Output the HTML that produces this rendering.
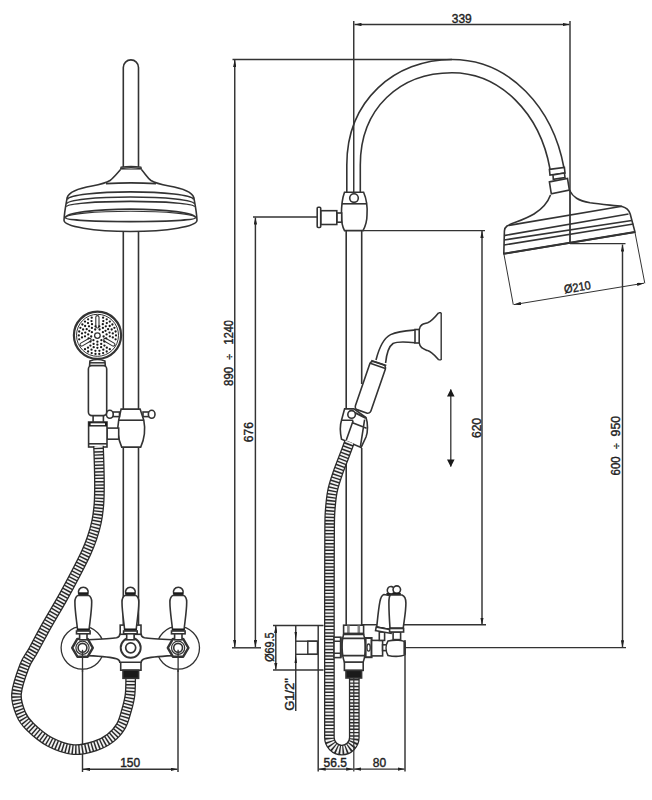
<!DOCTYPE html>
<html><head><meta charset="utf-8">
<style>
html,body{margin:0;padding:0;background:#fff;width:652px;height:800px;overflow:hidden}
svg{display:block}
text{font-family:"Liberation Sans",sans-serif;font-size:12px;fill:#222;stroke:#222;stroke-width:0.4}
</style></head><body>
<svg width="652" height="800" viewBox="0 0 652 800">
<defs>
<marker id="ar" viewBox="0 0 7 3.4" refX="7" refY="1.7" markerWidth="7" markerHeight="3.4" markerUnits="userSpaceOnUse" orient="auto-start-reverse"><path d="M0,0 L7,1.7 L0,3.4z" fill="#222"/></marker>
</defs>
<g id="dims" fill="none" stroke="#333" stroke-width="1.45">
<!-- 339 -->
<line x1="353.75" y1="21" x2="353.75" y2="192"/>
<line x1="570" y1="21" x2="570" y2="243.4"/>
<line x1="354.5" y1="24.5" x2="569.5" y2="24.5" marker-start="url(#ar)" marker-end="url(#ar)"/>
<!-- top line 890 -->
<line x1="232.5" y1="59.5" x2="452" y2="59.5"/>
<line x1="234.75" y1="60" x2="234.75" y2="647" marker-start="url(#ar)" marker-end="url(#ar)"/>
<!-- 676 -->
<line x1="253" y1="217" x2="317" y2="217"/>
<line x1="255.4" y1="217.5" x2="255.4" y2="647" marker-start="url(#ar)" marker-end="url(#ar)"/>
<line x1="232" y1="647.8" x2="261" y2="647.8"/>
<!-- 620 -->
<line x1="363" y1="230.6" x2="485" y2="230.6"/>
<line x1="482" y1="231" x2="482" y2="624.5" marker-start="url(#ar)" marker-end="url(#ar)"/>
<line x1="362" y1="624.7" x2="486" y2="624.7"/>
<!-- 600 950 -->
<line x1="570" y1="243.6" x2="625.5" y2="243.6"/>
<line x1="622.5" y1="244.5" x2="622.5" y2="647.3" marker-start="url(#ar)" marker-end="url(#ar)"/>
<line x1="405" y1="647.6" x2="626" y2="647.6"/>
<!-- double arrow -->
<line x1="450.8" y1="389.5" x2="450.8" y2="466.5" stroke-width="1.3"/>
<path d="M447,396.5 L450.8,389 L454.6,396.5z M447,459.5 L450.8,467 L454.6,459.5z" fill="#1a1a1a" stroke="none"/>
<!-- 69.5 / G1/2 -->
<line x1="273" y1="625.5" x2="323.5" y2="625.5"/>
<line x1="273" y1="670" x2="323.5" y2="670"/>
<line x1="275.8" y1="626" x2="275.8" y2="669.5" marker-start="url(#ar)" marker-end="url(#ar)"/>
<line x1="295.75" y1="625.5" x2="295.75" y2="711"/>
<path d="M294.5,632 L295.75,640 L297,632z M294.5,663 L295.75,655 L297,663z" fill="#1a1a1a" stroke="none"/>
<line x1="295.75" y1="641.2" x2="317.5" y2="641.2"/>
<line x1="295.75" y1="654.3" x2="317.5" y2="654.3"/>
<rect x="307.8" y="641.2" width="9.7" height="13.1"/>
<line x1="318.2" y1="625.5" x2="318.2" y2="771.5"/>
<!-- bottom 56.5 80 -->

<line x1="405" y1="640" x2="405" y2="771.5"/>
<line x1="318.7" y1="769.1" x2="353.2" y2="769.1" marker-start="url(#ar)" marker-end="url(#ar)"/>
<line x1="354.1" y1="769.1" x2="404.5" y2="769.1" marker-start="url(#ar)" marker-end="url(#ar)"/>
<!-- 150 -->
<line x1="82.5" y1="655" x2="82.5" y2="772"/>
<line x1="178" y1="655" x2="178" y2="772"/>
<line x1="83" y1="769.3" x2="177.5" y2="769.3" marker-start="url(#ar)" marker-end="url(#ar)"/>
</g>
<g id="left" fill="none" stroke="#333" stroke-width="1.6">
<path d="M123.3,168 V67.5 A7.6,7.6 0 0 1 138.5,67.5 V168" fill="#fff"/>
<path d="M120.4,169.8 L121,167.2 Q131,165.6 141,167.2 L141.6,169.8 Z" fill="#fff" stroke-width="1.2"/>
<path d="M121,168.4 Q131,167 141,168.4" stroke-width="1.6"/>
<path d="M120.4,169.8 C116.5,174 114,177.5 110,180.5 C106,183 100,184.5 92,186 C78,188.5 69,192 67.2,197.5 C66.2,203 64.3,212 64,220.3 A66.5,11.2 0 0 0 197,220.3 C196.7,212 194.8,203 193.8,197.5 C192,192 183,188.5 169,186 C161,184.5 155,183 151,180.5 C147,177.5 145.5,174 141.6,169.8" fill="#fff"/>
<path d="M106,183.6 Q131,182.2 156,183.6"/>
<path d="M67.3,199.4 A63.3,8 0 0 1 193.7,199.4"/>
<path d="M66.9,203.8 A63.6,6.8 0 0 1 194.1,203.8"/>
<path d="M66.5,206.7 A64,5.3 0 0 1 194.5,206.7"/>
<path d="M65.4,217.8 A65.1,8.7 0 0 1 195.6,217.8" stroke-width="1.8"/>
<path d="M65.4,217.8 A65.1,6.6 0 0 1 195.6,217.8" stroke-width="1.1"/>
<path d="M65.4,217.8 A65.1,3.8 0 0 0 195.6,217.8"/>
<path d="M123.3,232 V409.5 M138.5,232 V409.5 M123.3,447 V626 M138.5,447 V626"/>
<!-- slider -->
<path d="M121.1,409.1 H140.1 L143.8,420.2 C145.3,428 145.3,437 140.7,447.1 H121.7 C117.2,437 117.2,428 118.7,420.2 Z" fill="#fff"/>
<line x1="118.7" y1="420.2" x2="143.8" y2="420.2"/>
<rect x="113" y="412" width="6.5" height="4.6" fill="#fff"/>
<rect x="143" y="412" width="5.7" height="4.6" fill="#fff"/>
<ellipse cx="109.8" cy="414.3" rx="3.4" ry="4" fill="#fff"/>
<ellipse cx="151.7" cy="414.3" rx="3.3" ry="4" fill="#fff"/>
<!-- bracket -->
<rect x="107" y="428.1" width="11.7" height="11.1" fill="#fff"/>
<rect x="88.6" y="422" width="18.4" height="25" fill="#fff"/>
<rect x="88.6" y="422" width="18.4" height="4.5" fill="#1a1a1a" stroke="none"/>
<rect x="90.6" y="423.3" width="14.4" height="1.8" fill="#fff" stroke="none"/>
<line x1="88.6" y1="443.8" x2="107" y2="443.8"/>
<rect x="93.1" y="415.2" width="10.3" height="6.8" fill="#fff"/>
<!-- handle -->
<rect x="88.4" y="365.5" width="18.3" height="50.1" rx="3.5" fill="#fff"/>
<path d="M89.6,365.5 L89.9,361 Q97.4,358 104.9,361 L105.3,365.5 Z" fill="#fff"/>
<line x1="89.8" y1="362.8" x2="105.1" y2="362.8" stroke-width="1.5"/>
<!-- hand shower head -->
<circle cx="97.5" cy="335.3" r="23.6" fill="#fff" stroke-width="2.2"/>
<circle cx="97.5" cy="335.3" r="21" stroke-width="1"/>
<circle cx="97.4" cy="335.6" r="2.8" stroke-width="1.3"/>
<g fill="#fff" stroke-width="1.1">
<rect x="95.8" y="315.6" width="3.2" height="12.4" rx="1.6"/>
<rect x="-1.6" y="-6.2" width="3.2" height="12.4" rx="1.6" transform="translate(85.6,342.2) rotate(60)"/>
<rect x="-1.6" y="-6.2" width="3.2" height="12.4" rx="1.6" transform="translate(109.3,342.2) rotate(-60)"/>
</g>
<g fill="#1a1a1a" stroke="none"><circle cx="99.6" cy="329.5" r="1.15"/><circle cx="102.9" cy="332.2" r="1.15"/><circle cx="103.6" cy="336.5" r="1.15"/><circle cx="101.4" cy="340.2" r="1.15"/><circle cx="97.4" cy="341.7" r="1.15"/><circle cx="93.4" cy="340.2" r="1.15"/><circle cx="91.2" cy="336.5" r="1.15"/><circle cx="91.9" cy="332.2" r="1.15"/><circle cx="95.2" cy="329.5" r="1.15"/><circle cx="99.3" cy="326.3" r="1.15"/><circle cx="102.9" cy="327.9" r="1.15"/><circle cx="105.5" cy="330.8" r="1.15"/><circle cx="106.6" cy="334.4" r="1.15"/><circle cx="106.2" cy="338.3" r="1.15"/><circle cx="104.3" cy="341.6" r="1.15"/><circle cx="101.2" cy="343.9" r="1.15"/><circle cx="97.4" cy="344.7" r="1.15"/><circle cx="93.6" cy="343.9" r="1.15"/><circle cx="90.5" cy="341.6" r="1.15"/><circle cx="88.6" cy="338.3" r="1.15"/><circle cx="88.2" cy="334.4" r="1.15"/><circle cx="89.3" cy="330.8" r="1.15"/><circle cx="91.9" cy="327.9" r="1.15"/><circle cx="95.5" cy="326.3" r="1.15"/><circle cx="102.8" cy="324.2" r="1.15"/><circle cx="105.8" cy="326.3" r="1.15"/><circle cx="108.1" cy="329.2" r="1.15"/><circle cx="109.5" cy="332.6" r="1.15"/><circle cx="109.8" cy="336.3" r="1.15"/><circle cx="104.4" cy="345.6" r="1.15"/><circle cx="101.1" cy="347.2" r="1.15"/><circle cx="97.4" cy="347.8" r="1.15"/><circle cx="93.7" cy="347.2" r="1.15"/><circle cx="90.4" cy="345.6" r="1.15"/><circle cx="85.0" cy="336.3" r="1.15"/><circle cx="85.3" cy="332.6" r="1.15"/><circle cx="86.7" cy="329.2" r="1.15"/><circle cx="89.0" cy="326.3" r="1.15"/><circle cx="92.0" cy="324.2" r="1.15"/><circle cx="103.3" cy="321.1" r="1.15"/><circle cx="106.8" cy="323.1" r="1.15"/><circle cx="109.7" cy="326.0" r="1.15"/><circle cx="111.7" cy="329.5" r="1.15"/><circle cx="112.8" cy="333.4" r="1.15"/><circle cx="112.8" cy="337.4" r="1.15"/><circle cx="106.8" cy="347.7" r="1.15"/><circle cx="103.3" cy="349.7" r="1.15"/><circle cx="99.4" cy="350.8" r="1.15"/><circle cx="95.4" cy="350.8" r="1.15"/><circle cx="91.5" cy="349.7" r="1.15"/><circle cx="88.0" cy="347.7" r="1.15"/><circle cx="82.0" cy="337.4" r="1.15"/><circle cx="82.0" cy="333.4" r="1.15"/><circle cx="83.1" cy="329.5" r="1.15"/><circle cx="85.1" cy="326.0" r="1.15"/><circle cx="88.0" cy="323.1" r="1.15"/><circle cx="91.5" cy="321.1" r="1.15"/><circle cx="103.1" cy="317.7" r="1.15"/><circle cx="106.7" cy="319.3" r="1.15"/><circle cx="109.8" cy="321.6" r="1.15"/><circle cx="112.4" cy="324.5" r="1.15"/><circle cx="114.4" cy="327.8" r="1.15"/><circle cx="115.6" cy="331.5" r="1.15"/><circle cx="116.0" cy="335.4" r="1.15"/><circle cx="115.6" cy="339.3" r="1.15"/><circle cx="109.8" cy="349.2" r="1.15"/><circle cx="106.7" cy="351.5" r="1.15"/><circle cx="103.1" cy="353.1" r="1.15"/><circle cx="99.3" cy="353.9" r="1.15"/><circle cx="95.5" cy="353.9" r="1.15"/><circle cx="91.7" cy="353.1" r="1.15"/><circle cx="88.1" cy="351.5" r="1.15"/><circle cx="85.0" cy="349.2" r="1.15"/><circle cx="79.2" cy="339.3" r="1.15"/><circle cx="78.8" cy="335.4" r="1.15"/><circle cx="79.2" cy="331.5" r="1.15"/><circle cx="80.4" cy="327.8" r="1.15"/><circle cx="82.4" cy="324.5" r="1.15"/><circle cx="85.0" cy="321.6" r="1.15"/><circle cx="88.1" cy="319.3" r="1.15"/><circle cx="91.7" cy="317.7" r="1.15"/></g>
</g>
<g id="hoseL" fill="none">
<path d="M98.5,446.0 C98.7,451.3 99.3,468.5 99.4,478.0 C99.5,487.5 99.5,495.7 99.0,503.0 C98.5,510.3 97.7,516.2 96.5,522.0 C95.3,527.8 93.7,533.0 92.0,538.0 C90.3,543.0 89.3,545.8 86.5,552.0 C83.7,558.2 79.2,567.0 75.0,575.0 C70.8,583.0 66.2,591.7 61.5,600.0 C56.8,608.3 51.7,616.7 47.0,625.0 C42.3,633.3 37.2,643.2 33.5,650.0 C29.8,656.8 27.3,658.7 24.5,666.0 C21.7,673.3 17.1,686.0 16.5,694.0 C15.9,702.0 18.8,708.6 21.0,714.0 C23.2,719.4 25.2,721.9 30.0,726.6 C34.8,731.3 42.7,738.2 50.0,742.0 C57.3,745.8 66.1,748.9 73.6,749.6 C81.1,750.3 88.9,747.9 95.0,746.0 C101.1,744.1 106.1,741.3 110.4,738.0 C114.7,734.7 118.3,730.6 121.0,726.0 C123.7,721.4 125.0,715.7 126.5,710.5 C128.0,705.3 129.3,700.6 130.0,695.0 C130.7,689.4 130.6,680.0 130.7,677.0" stroke="#2a2a2a" stroke-width="10.8"/>
<path d="M98.5,446.0 C98.7,451.3 99.3,468.5 99.4,478.0 C99.5,487.5 99.5,495.7 99.0,503.0 C98.5,510.3 97.7,516.2 96.5,522.0 C95.3,527.8 93.7,533.0 92.0,538.0 C90.3,543.0 89.3,545.8 86.5,552.0 C83.7,558.2 79.2,567.0 75.0,575.0 C70.8,583.0 66.2,591.7 61.5,600.0 C56.8,608.3 51.7,616.7 47.0,625.0 C42.3,633.3 37.2,643.2 33.5,650.0 C29.8,656.8 27.3,658.7 24.5,666.0 C21.7,673.3 17.1,686.0 16.5,694.0 C15.9,702.0 18.8,708.6 21.0,714.0 C23.2,719.4 25.2,721.9 30.0,726.6 C34.8,731.3 42.7,738.2 50.0,742.0 C57.3,745.8 66.1,748.9 73.6,749.6 C81.1,750.3 88.9,747.9 95.0,746.0 C101.1,744.1 106.1,741.3 110.4,738.0 C114.7,734.7 118.3,730.6 121.0,726.0 C123.7,721.4 125.0,715.7 126.5,710.5 C128.0,705.3 129.3,700.6 130.0,695.0 C130.7,689.4 130.6,680.0 130.7,677.0" stroke="#f2f2f2" stroke-width="8.2" stroke-dasharray="1.85 1.45"/>
</g>
<g id="valveL" fill="none" stroke="#333" stroke-width="1.6">
<circle cx="82.5" cy="647.8" r="21.4" fill="#fff" stroke-width="1.3"/>
<circle cx="178.1" cy="647.8" r="21.4" fill="#fff" stroke-width="1.3"/>
<rect x="120.7" y="662" width="20.3" height="8.2" fill="#fff"/>
<rect x="123" y="670.2" width="15.6" height="8.1" fill="#1a1a1a"/>
<path d="M88,639.8 C100,639.3 112,638.6 116.5,637.8 C118.8,637.2 119.8,636 119.8,634.3 H141.2 C141.2,636 142.2,637.2 144.5,637.8 C149,638.6 161,639.3 172.6,639.8 L172.6,655.6 C161,656.2 149,657.2 144.5,658.8 C142.2,659.6 141.2,660.8 141.2,662.2 H119.8 C119.8,660.8 118.8,659.6 116.5,658.8 C112,657.2 100,656.2 88,655.6 Z" fill="#fff"/>
<circle cx="130.7" cy="647.8" r="10" fill="#fff" stroke-width="1.9"/>
<circle cx="130.7" cy="647.8" r="5" stroke-width="1.7"/>
<rect x="127.6" y="633" width="6.4" height="4.9" fill="#fff"/>
<rect x="120.2" y="625.1" width="20.8" height="9.2" fill="#fff"/>
<polygon points="92.8,647.8 87.7,656.7 77.4,656.7 72.2,647.8 77.3,638.9 87.7,638.9" fill="#fff" stroke-width="2.4" stroke-linejoin="round"/><circle cx="82.5" cy="647.8" r="6.6" stroke-width="1.2"/><circle cx="82.5" cy="647.8" r="4.4" stroke-width="1.6"/><line x1="82.5" y1="649.8" x2="82.5" y2="672" stroke-width="1.3"/>
<polygon points="188.4,647.8 183.2,656.7 172.9,656.7 167.8,647.8 172.9,638.9 183.2,638.9" fill="#fff" stroke-width="2.4" stroke-linejoin="round"/><circle cx="178.1" cy="647.8" r="6.6" stroke-width="1.2"/><circle cx="178.1" cy="647.8" r="4.4" stroke-width="1.6"/><line x1="178.1" y1="649.8" x2="178.1" y2="672" stroke-width="1.3"/>
<path d="M78.7,593.8 A4.9,4.9 0 1 1 87.89999999999999,593.8 Z" fill="#fff"/><rect x="78.5" y="592.3" width="9.6" height="3" fill="#1a1a1a" stroke="none"/><path d="M78.1,595.4 H88.5 C90.8,596.5 91.7,599 91.7,602 C91.7,611 89.8,622 89.1,629.5 H77.5 C76.8,622 74.89999999999999,611 74.89999999999999,602 C74.89999999999999,599 75.8,596.5 78.1,595.4 Z" fill="#fff"/><rect x="77.1" y="628.6" width="12.4" height="2.2" fill="#1a1a1a" stroke="none"/><rect x="76.5" y="631" width="13.6" height="2.8" fill="#fff"/><rect x="79.6" y="633.8" width="7.4" height="6" fill="#fff"/>
<path d="M125.80000000000001,593.8 A4.9,4.9 0 1 1 135.0,593.8 Z" fill="#fff"/><rect x="125.60000000000001" y="592.3" width="9.6" height="3" fill="#1a1a1a" stroke="none"/><path d="M125.2,595.4 H135.6 C137.9,596.5 138.8,599 138.8,602 C138.8,611 136.9,622 136.20000000000002,629.5 H124.60000000000001 C123.9,622 122.0,611 122.0,602 C122.0,599 122.9,596.5 125.2,595.4 Z" fill="#fff"/><rect x="124.2" y="628.6" width="12.4" height="2.2" fill="#1a1a1a" stroke="none"/><rect x="123.60000000000001" y="631" width="13.6" height="2.8" fill="#fff"/><rect x="126.7" y="633.8" width="7.4" height="6" fill="#fff"/>
<path d="M173.70000000000002,593.8 A4.9,4.9 0 1 1 182.9,593.8 Z" fill="#fff"/><rect x="173.5" y="592.3" width="9.6" height="3" fill="#1a1a1a" stroke="none"/><path d="M173.10000000000002,595.4 H183.5 C185.8,596.5 186.70000000000002,599 186.70000000000002,602 C186.70000000000002,611 184.8,622 184.10000000000002,629.5 H172.5 C171.8,622 169.9,611 169.9,602 C169.9,599 170.8,596.5 173.10000000000002,595.4 Z" fill="#fff"/><rect x="172.10000000000002" y="628.6" width="12.4" height="2.2" fill="#1a1a1a" stroke="none"/><rect x="171.5" y="631" width="13.6" height="2.8" fill="#fff"/><rect x="174.60000000000002" y="633.8" width="7.4" height="6" fill="#fff"/>
</g>
<!--ENDLEFT-->
<g id="right" fill="none" stroke="#333" stroke-width="1.6">
<!-- gooseneck -->
<path d="M346.8,192.5 V165 C346.8,100 395,59.5 452,59.5 C510,59.5 553,108 564,168" />
<path d="M360.3,192.5 V165 C360.3,108 400,72.7 452,72.7 C500,72.7 540,113 550,169" />
<!-- collar + neck -->
<path d="M549.4,169.4 L564.4,167.5 L565,173 L550,175 Z" fill="#fff"/>
<path d="M553,175 L564.4,173 L565,177.5 L553.3,179.4 Z" fill="#fff"/>
<path d="M549.4,181.9 L567.5,178.5 L569.4,190 L551.3,193.8 Z" fill="#fff"/>
<!-- head -->
<path d="M550.5,195 C548,202 542,209 534,214 C524,220 512,223 507,226 C505,227.5 504.4,229 504.4,231 L503.8,253.8 L635,232 L630.2,214 C629,210 626,207.5 622,206.5 C615,205.5 602,204.5 590,202.8 C578,200.5 573,197 569.6,190.5"/>
<path d="M509,225.4 L622,206.3" />
<path d="M504,235.6 L628.5,214"/>
<path d="M504,240 L631.8,220.5"/>
<path d="M504,245 L633.4,224"/>
<path d="M503.8,253.8 L635,232" stroke-width="2"/>
<line x1="570" y1="190" x2="570" y2="243.4" stroke-width="1.1"/>
<!-- ext lines + dim 210 -->
<path d="M504,254.5 L513.3,304.8 M635,232.5 L644.8,283.3" stroke-width="1"/>
<line x1="514" y1="304.6" x2="644" y2="283.2" stroke-width="1" marker-start="url(#ar)" marker-end="url(#ar)"/>
<!-- upper block -->
<path d="M344.5,192.3 H363.6 C366.5,199 367.5,208 367,215 C367,222 365,227 363,230.6 H344.5 C342.5,227 341.4,222 341.4,215 C341.4,208 342,199 344.5,192.3 Z" fill="#fff"/>
<line x1="341.8" y1="203.8" x2="366.8" y2="203.8"/>
<circle cx="354" cy="198.1" r="4.3" fill="#fff"/>
<rect x="336.8" y="213" width="4.9" height="9.2" fill="#fff"/>
<rect x="320.7" y="210.7" width="16.1" height="13.8" fill="#fff"/>
<rect x="317.2" y="207.3" width="3.5" height="20.2" rx="1" fill="#fff"/>
<!-- pipe -->
<path d="M346.2,230.6 V625 M361.7,230.6 V384"/>
<path d="M361.7,448 V625"/>
<!-- hand shower side -->
<path d="M441.2,312.7 V359.9 M438.7,312.7 H441.2 M438.7,359.9 H441.2" stroke-width="1.4"/>
<path d="M438.7,312.7 C436,316 432,321 427.7,322.8 C424,324 420,324 419.3,329.5 M438.7,359.9 C436,357 432,352 427.7,350.6 C424,349 420,348.5 419.3,343" />
<rect x="415" y="329.5" width="4.2" height="13.5" fill="#fff"/>
<path d="M415,330 C408,330.5 398,331 390.6,334.6 C384,338 379,348 376,360 M415,342.8 C408,342 398,341 393,343.5 C388,347 386.5,354 385.6,363"/>
<g transform="translate(370.4,387.3) rotate(19)">
<rect x="-8.2" y="-25.5" width="16.4" height="51" rx="3.5" fill="#fff"/>
<path d="M-8,-25.7 H8 M-8,-22.7 H8" stroke-width="1.6"/>
</g>
<!-- holder -->
<path d="M344.6,408.9 H353.9 L366,417.5 C368,423 368,432 366,437 L361.1,447.4 L341.5,439.2 C340,432 340,425 341.5,420.3 Z" fill="#fff"/>
<path d="M341.5,420.3 H353.2 M353.2,420.6 L346.3,439.9 M352.5,422.7 L366.6,428.2 M364.6,419.6 L360.4,446.7" />
<path d="M354.9,412.7 L365.9,418.2" stroke-width="2"/>
<circle cx="351.6" cy="414.4" r="3.8" fill="#fff"/>
</g>
<g id="hoseR" fill="none">
<path d="M349.5,442.0 C348.5,444.7 345.5,452.7 343.5,458.0 C341.5,463.3 339.3,468.5 337.5,474.0 C335.7,479.5 333.7,485.0 332.5,491.0 C331.3,497.0 330.7,503.5 330.2,510.0 C329.7,516.5 329.7,515.0 329.6,530.0 C329.5,545.0 329.4,588.3 329.4,600.0 L329.4,737.6 A12.45,12.45 0 0 0 354.3,737.6 L354.3,677" stroke="#2a2a2a" stroke-width="10.8"/>
<path d="M349.5,442.0 C348.5,444.7 345.5,452.7 343.5,458.0 C341.5,463.3 339.3,468.5 337.5,474.0 C335.7,479.5 333.7,485.0 332.5,491.0 C331.3,497.0 330.7,503.5 330.2,510.0 C329.7,516.5 329.7,515.0 329.6,530.0 C329.5,545.0 329.4,588.3 329.4,600.0 L329.4,737.6 A12.45,12.45 0 0 0 354.3,737.6 L354.3,677" stroke="#f2f2f2" stroke-width="8.2" stroke-dasharray="1.85 1.45"/>
</g>
<g id="valveR" fill="none" stroke="#333" stroke-width="1.6">
<line x1="353.8" y1="678" x2="353.8" y2="771.5" stroke-width="1.2"/>
<rect x="334" y="637.2" width="6.8" height="20.4" fill="#fff"/>
<path d="M334,641.2 H340.8 M334,653.2 H340.8"/>
<line x1="340.8" y1="637.2" x2="340.8" y2="657.6" stroke-width="2"/>
<rect x="344.4" y="662" width="18.8" height="8.4" fill="#fff"/>
<rect x="346" y="670.4" width="15.6" height="7.6" fill="#1a1a1a"/>
<path d="M343.6,634.4 H363.6 C366,641 366,655 363.2,662 H344.4 C341.6,655 341.4,641 343.6,634.4 Z" fill="#fff"/>
<path d="M342.3,638.4 H364.6 M342.3,655.6 H364.6"/>
<rect x="343.6" y="625.2" width="20" height="8.9" fill="#fff"/>
<path d="M348.4,625.5 V634 M358.8,625.5 V634" stroke="#888" stroke-width="2.6"/>
<line x1="343.6" y1="633.6" x2="363.6" y2="633.6" stroke-width="2"/>
<!-- right connector -->
<rect x="365.6" y="638" width="6" height="19.2" fill="#fff" stroke-width="2"/>
<ellipse cx="368.6" cy="647.6" rx="1.6" ry="3.6" stroke-width="1.3"/>
<rect x="371.6" y="640.4" width="11" height="15.5" fill="#fff"/>
<rect x="382.6" y="644.8" width="5.2" height="5.8" fill="#fff"/>
<path d="M388,641 C395,639.5 403,640 405,642 V654.5 C403,656.5 395,657 388,655.5 C385.5,651 385.5,645 388,641 Z" fill="#fff"/>
<path d="M404.4,642 V654.5" stroke-width="2"/>
<!-- back handle -->
<rect x="379.3" y="632" width="5.3" height="8.4" fill="#fff"/>
<g transform="rotate(10.5 383.5 631)">
<circle cx="383.5" cy="589.6" r="3.75" fill="#fff"/>
<rect x="379.5" y="592.8" width="8" height="2.2" fill="#1a1a1a" stroke="none"/>
<path d="M377.2,595 H389.8 C392.3,596 393.6,599 393.6,603 C393.6,612 391.7,621 390.9,628.3 H376.1 C375.6,621 374.6,612 374.6,603 C374.6,599 375.3,596 377.2,595 Z" fill="#fff"/>
<rect x="376.1" y="627.6" width="14.8" height="1.8" fill="#1a1a1a" stroke="none"/>
<rect x="375.6" y="628.5" width="15.8" height="3.5" fill="#fff"/>
</g>
<!-- front handle -->
<rect x="393.1" y="632" width="7.5" height="7.6" fill="#fff"/>
<circle cx="396.8" cy="589.6" r="3.75" fill="#fff"/>
<rect x="392.8" y="592.8" width="8" height="2.2" fill="#1a1a1a" stroke="none"/>
<path d="M390.5,595 H402 C404.5,596 405.9,599 405.9,603 C405.9,612 404,621 403.2,628.3 H390 C389.5,621 388.9,612 388.9,603 C388.9,599 389,596 390.5,595 Z" fill="#fff"/>
<rect x="390" y="627.6" width="13.2" height="1.8" fill="#1a1a1a" stroke="none"/>
<rect x="389.6" y="628.5" width="14" height="3.5" fill="#fff"/>
</g>
<!--ENDRIGHT-->
<g id="texts">
<text x="461.75" y="22.5" text-anchor="middle">339</text>
<text x="130.2" y="767.2" text-anchor="middle">150</text>
<text x="335.3" y="767.2" text-anchor="middle">56.5</text>
<text x="379.5" y="767.2" text-anchor="middle">80</text>
<text transform="translate(233.3,332.3) rotate(-90)" text-anchor="middle" textLength="24.2" lengthAdjust="spacingAndGlyphs">1240</text>
<text transform="translate(233.3,356.7) rotate(-90)" text-anchor="middle" style="font-size:10px">÷</text>
<text transform="translate(233.3,376.4) rotate(-90)" text-anchor="middle" textLength="19" lengthAdjust="spacingAndGlyphs">890</text>
<text transform="translate(252.7,432.2) rotate(-90)" text-anchor="middle">676</text>
<text transform="translate(480.5,428) rotate(-90)" text-anchor="middle">620</text>
<text transform="translate(620.4,426.2) rotate(-90)" text-anchor="middle" textLength="20.5" lengthAdjust="spacingAndGlyphs">950</text>
<text transform="translate(620.4,446) rotate(-90)" text-anchor="middle" style="font-size:10px">÷</text>
<text transform="translate(620.4,465.9) rotate(-90)" text-anchor="middle" textLength="19" lengthAdjust="spacingAndGlyphs">600</text>
<text transform="translate(274,647.1) rotate(-90)" text-anchor="middle" textLength="29.5" lengthAdjust="spacingAndGlyphs">Ø69.5</text>
<text transform="translate(293.5,694.4) rotate(-90)" text-anchor="middle" textLength="32.5" lengthAdjust="spacingAndGlyphs">G1/2"</text>
<text transform="translate(578,291.3) rotate(-9.8)" text-anchor="middle" textLength="27" lengthAdjust="spacingAndGlyphs">Ø210</text>
</g>
</svg>
</body></html>
